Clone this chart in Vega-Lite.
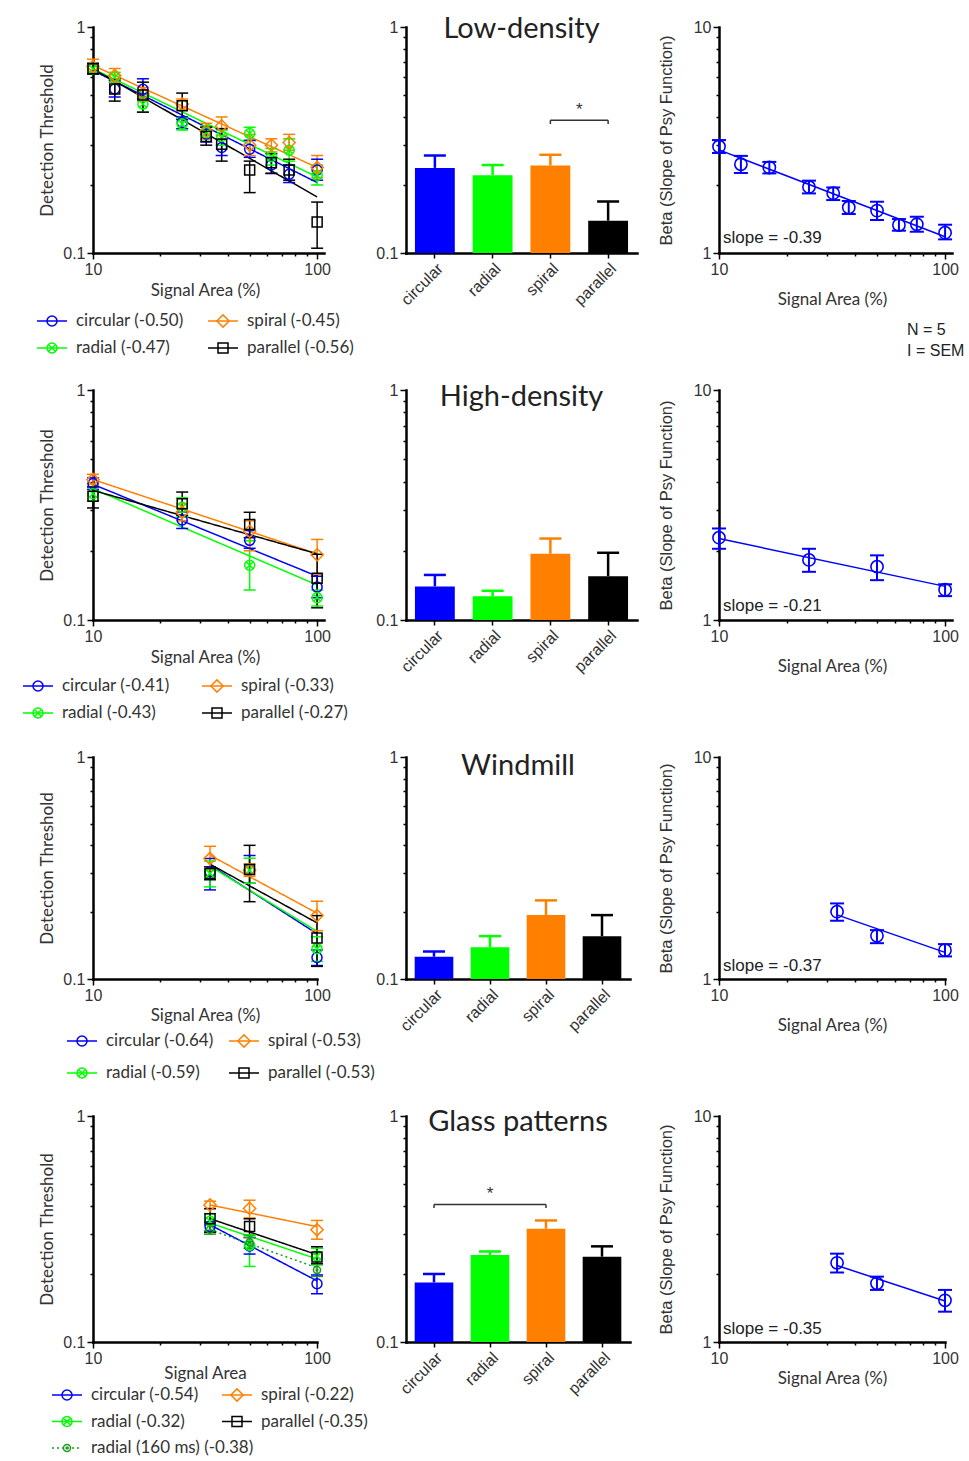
{
"$schema":"https://vega.github.io/schema/vega-lite/v6.json",
"padding":{"left":22,"top":15,"right":0,"bottom":0},
"background":"white",
"columns":3,
"spacing":{"row":137,"column":82},
"bounds":"flush",
"align":"each",
"datasets":{
"thr":[
{"p":"a","s":"circular","x":10,"y":0.653,"lo":0.62,"hi":0.69},
{"p":"a","s":"circular","x":12.5,"y":0.532,"lo":0.49,"hi":0.58},
{"p":"a","s":"circular","x":16.7,"y":0.53,"lo":0.48,"hi":0.59},
{"p":"a","s":"circular","x":25,"y":0.378,"lo":0.355,"hi":0.4},
{"p":"a","s":"circular","x":32,"y":0.336,"lo":0.31,"hi":0.36},
{"p":"a","s":"circular","x":37.5,"y":0.293,"lo":0.27,"hi":0.32},
{"p":"a","s":"circular","x":50,"y":0.288,"lo":0.265,"hi":0.315},
{"p":"a","s":"circular","x":62.5,"y":0.245,"lo":0.225,"hi":0.265},
{"p":"a","s":"circular","x":75,"y":0.223,"lo":0.205,"hi":0.245},
{"p":"a","s":"circular","x":100,"y":0.233,"lo":0.21,"hi":0.26},
{"p":"a","s":"radial","x":10,"y":0.653,"lo":0.62,"hi":0.69},
{"p":"a","s":"radial","x":12.5,"y":0.599,"lo":0.57,"hi":0.63},
{"p":"a","s":"radial","x":16.7,"y":0.456,"lo":0.42,"hi":0.49},
{"p":"a","s":"radial","x":25,"y":0.372,"lo":0.35,"hi":0.395},
{"p":"a","s":"radial","x":32,"y":0.341,"lo":0.32,"hi":0.365},
{"p":"a","s":"radial","x":37.5,"y":0.328,"lo":0.3,"hi":0.35},
{"p":"a","s":"radial","x":50,"y":0.338,"lo":0.315,"hi":0.36},
{"p":"a","s":"radial","x":62.5,"y":0.267,"lo":0.245,"hi":0.29},
{"p":"a","s":"radial","x":75,"y":0.285,"lo":0.255,"hi":0.32},
{"p":"a","s":"radial","x":100,"y":0.221,"lo":0.2,"hi":0.245},
{"p":"a","s":"spiral","x":10,"y":0.669,"lo":0.63,"hi":0.72},
{"p":"a","s":"spiral","x":12.5,"y":0.61,"lo":0.57,"hi":0.655},
{"p":"a","s":"spiral","x":16.7,"y":0.506,"lo":0.47,"hi":0.54},
{"p":"a","s":"spiral","x":25,"y":0.456,"lo":0.43,"hi":0.48},
{"p":"a","s":"spiral","x":32,"y":0.347,"lo":0.32,"hi":0.375},
{"p":"a","s":"spiral","x":37.5,"y":0.365,"lo":0.33,"hi":0.4},
{"p":"a","s":"spiral","x":50,"y":0.3,"lo":0.27,"hi":0.335},
{"p":"a","s":"spiral","x":62.5,"y":0.3,"lo":0.28,"hi":0.32},
{"p":"a","s":"spiral","x":75,"y":0.308,"lo":0.285,"hi":0.335},
{"p":"a","s":"spiral","x":100,"y":0.239,"lo":0.215,"hi":0.27},
{"p":"a","s":"parallel","x":10,"y":0.653,"lo":0.62,"hi":0.69},
{"p":"a","s":"parallel","x":12.5,"y":0.532,"lo":0.47,"hi":0.59},
{"p":"a","s":"parallel","x":16.7,"y":0.5,"lo":0.42,"hi":0.57},
{"p":"a","s":"parallel","x":25,"y":0.448,"lo":0.39,"hi":0.51},
{"p":"a","s":"parallel","x":32,"y":0.328,"lo":0.3,"hi":0.36},
{"p":"a","s":"parallel","x":37.5,"y":0.303,"lo":0.255,"hi":0.355},
{"p":"a","s":"parallel","x":50,"y":0.233,"lo":0.185,"hi":0.255},
{"p":"a","s":"parallel","x":62.5,"y":0.251,"lo":0.225,"hi":0.275},
{"p":"a","s":"parallel","x":75,"y":0.233,"lo":0.21,"hi":0.26},
{"p":"a","s":"parallel","x":100,"y":0.137,"lo":0.105,"hi":0.168},
{"p":"b","s":"circular","x":10,"y":0.392,"lo":0.37,"hi":0.415},
{"p":"b","s":"circular","x":25,"y":0.272,"lo":0.25,"hi":0.295},
{"p":"b","s":"circular","x":50,"y":0.222,"lo":0.205,"hi":0.245},
{"p":"b","s":"circular","x":100,"y":0.139,"lo":0.125,"hi":0.155},
{"p":"b","s":"radial","x":10,"y":0.354,"lo":0.33,"hi":0.38},
{"p":"b","s":"radial","x":25,"y":0.309,"lo":0.28,"hi":0.34},
{"p":"b","s":"radial","x":50,"y":0.173,"lo":0.135,"hi":0.221},
{"p":"b","s":"radial","x":100,"y":0.125,"lo":0.115,"hi":0.135},
{"p":"b","s":"spiral","x":10,"y":0.408,"lo":0.39,"hi":0.43},
{"p":"b","s":"spiral","x":25,"y":0.294,"lo":0.27,"hi":0.32},
{"p":"b","s":"spiral","x":50,"y":0.243,"lo":0.2,"hi":0.27},
{"p":"b","s":"spiral","x":100,"y":0.192,"lo":0.158,"hi":0.224},
{"p":"b","s":"parallel","x":10,"y":0.345,"lo":0.307,"hi":0.379},
{"p":"b","s":"parallel","x":25,"y":0.32,"lo":0.285,"hi":0.36},
{"p":"b","s":"parallel","x":50,"y":0.26,"lo":0.228,"hi":0.294},
{"p":"b","s":"parallel","x":100,"y":0.152,"lo":0.113,"hi":0.193},
{"p":"c","s":"circular","x":33.3,"y":0.304,"lo":0.252,"hi":0.349},
{"p":"c","s":"circular","x":50,"y":0.311,"lo":0.27,"hi":0.36},
{"p":"c","s":"circular","x":100,"y":0.125,"lo":0.115,"hi":0.135},
{"p":"c","s":"radial","x":33.3,"y":0.299,"lo":0.26,"hi":0.34},
{"p":"c","s":"radial","x":50,"y":0.309,"lo":0.27,"hi":0.35},
{"p":"c","s":"radial","x":100,"y":0.137,"lo":0.12,"hi":0.155},
{"p":"c","s":"spiral","x":33.3,"y":0.349,"lo":0.31,"hi":0.396},
{"p":"c","s":"spiral","x":50,"y":0.309,"lo":0.29,"hi":0.33},
{"p":"c","s":"spiral","x":100,"y":0.193,"lo":0.165,"hi":0.224},
{"p":"c","s":"parallel","x":33.3,"y":0.299,"lo":0.28,"hi":0.32},
{"p":"c","s":"parallel","x":50,"y":0.311,"lo":0.223,"hi":0.4},
{"p":"c","s":"parallel","x":100,"y":0.153,"lo":0.114,"hi":0.193},
{"p":"d","s":"circular","x":33.3,"y":0.324,"lo":0.31,"hi":0.34},
{"p":"d","s":"circular","x":50,"y":0.266,"lo":0.245,"hi":0.29},
{"p":"d","s":"circular","x":100,"y":0.181,"lo":0.1635,"hi":0.198},
{"p":"d","s":"radial","x":33.3,"y":0.342,"lo":0.31,"hi":0.37},
{"p":"d","s":"radial","x":50,"y":0.268,"lo":0.216,"hi":0.298},
{"p":"d","s":"radial","x":100,"y":0.24,"lo":0.22,"hi":0.26},
{"p":"d","s":"spiral","x":33.3,"y":0.404,"lo":0.39,"hi":0.42},
{"p":"d","s":"spiral","x":50,"y":0.39,"lo":0.354,"hi":0.424},
{"p":"d","s":"spiral","x":100,"y":0.314,"lo":0.285,"hi":0.345},
{"p":"d","s":"parallel","x":33.3,"y":0.351,"lo":0.306,"hi":0.389},
{"p":"d","s":"parallel","x":50,"y":0.324,"lo":0.298,"hi":0.351},
{"p":"d","s":"parallel","x":100,"y":0.238,"lo":0.222,"hi":0.264},
{"p":"d","s":"r160","x":33.3,"y":0.314,"lo":0.3,"hi":0.33},
{"p":"d","s":"r160","x":50,"y":0.276,"lo":0.26,"hi":0.29},
{"p":"d","s":"r160","x":100,"y":0.208,"lo":0.195,"hi":0.22}
],
"fit":[
{"p":"a","s":"circular","x":10,"y":0.642},{"p":"a","s":"circular","x":100,"y":0.205},
{"p":"a","s":"radial","x":10,"y":0.653},{"p":"a","s":"radial","x":100,"y":0.217},
{"p":"a","s":"spiral","x":10,"y":0.676},{"p":"a","s":"spiral","x":100,"y":0.239},
{"p":"a","s":"parallel","x":10,"y":0.653},{"p":"a","s":"parallel","x":100,"y":0.177},
{"p":"b","s":"circular","x":10,"y":0.389},{"p":"b","s":"circular","x":100,"y":0.155},
{"p":"b","s":"radial","x":10,"y":0.372},{"p":"b","s":"radial","x":100,"y":0.142},
{"p":"b","s":"spiral","x":10,"y":0.408},{"p":"b","s":"spiral","x":100,"y":0.194},
{"p":"b","s":"parallel","x":10,"y":0.366},{"p":"b","s":"parallel","x":100,"y":0.194},
{"p":"c","s":"circular","x":33.3,"y":0.326},{"p":"c","s":"circular","x":100,"y":0.16},
{"p":"c","s":"radial","x":33.3,"y":0.322},{"p":"c","s":"radial","x":100,"y":0.164},
{"p":"c","s":"spiral","x":33.3,"y":0.361},{"p":"c","s":"spiral","x":100,"y":0.198},
{"p":"c","s":"parallel","x":33.3,"y":0.329},{"p":"c","s":"parallel","x":100,"y":0.179},
{"p":"d","s":"circular","x":33.3,"y":0.33},{"p":"d","s":"circular","x":100,"y":0.1865},
{"p":"d","s":"radial","x":33.3,"y":0.336},{"p":"d","s":"radial","x":100,"y":0.233},
{"p":"d","s":"spiral","x":33.3,"y":0.404},{"p":"d","s":"spiral","x":100,"y":0.324},
{"p":"d","s":"parallel","x":33.3,"y":0.351},{"p":"d","s":"parallel","x":100,"y":0.2435},
{"p":"d","s":"r160","x":33.3,"y":0.314},{"p":"d","s":"r160","x":100,"y":0.213}
],
"bars":[
{"p":"a","s":"circular","v":0.238,"hi":0.27},{"p":"a","s":"radial","v":0.221,"hi":0.245},{"p":"a","s":"spiral","v":0.244,"hi":0.272},{"p":"a","s":"parallel","v":0.139,"hi":0.169},
{"p":"b","s":"circular","v":0.14,"hi":0.157},{"p":"b","s":"radial","v":0.127,"hi":0.134},{"p":"b","s":"spiral","v":0.194,"hi":0.226},{"p":"b","s":"parallel","v":0.155,"hi":0.196},
{"p":"c","s":"circular","v":0.126,"hi":0.133},{"p":"c","s":"radial","v":0.139,"hi":0.156},{"p":"c","s":"spiral","v":0.194,"hi":0.226},{"p":"c","s":"parallel","v":0.156,"hi":0.194},
{"p":"d","s":"circular","v":0.1835,"hi":0.2},{"p":"d","s":"radial","v":0.2427,"hi":0.2515},{"p":"d","s":"spiral","v":0.317,"hi":0.345},{"p":"d","s":"parallel","v":0.2385,"hi":0.265}
],
"brk":[
{"p":"a","a":"spiral","b":"parallel","m":"spiral","y":0.387,"y2":0.372},
{"p":"d","a":"circular","b":"spiral","m":"radial","y":0.406,"y2":0.392}
],
"beta":[
{"p":"a","x":10,"y":2.96,"lo":2.77,"hi":3.16},{"p":"a","x":12.5,"y":2.47,"lo":2.26,"hi":2.69},{"p":"a","x":16.7,"y":2.39,"lo":2.25,"hi":2.53},{"p":"a","x":25,"y":1.96,"lo":1.835,"hi":2.09},{"p":"a","x":32,"y":1.84,"lo":1.715,"hi":1.95},{"p":"a","x":37.5,"y":1.59,"lo":1.487,"hi":1.7},{"p":"a","x":50,"y":1.54,"lo":1.4,"hi":1.686},{"p":"a","x":62.5,"y":1.33,"lo":1.255,"hi":1.413},{"p":"a","x":75,"y":1.34,"lo":1.242,"hi":1.447},{"p":"a","x":100,"y":1.23,"lo":1.149,"hi":1.334},
{"p":"b","x":10,"y":2.28,"lo":2.04,"hi":2.5},{"p":"b","x":25,"y":1.825,"lo":1.62,"hi":2.04},{"p":"b","x":50,"y":1.706,"lo":1.49,"hi":1.91},{"p":"b","x":100,"y":1.354,"lo":1.27,"hi":1.43},
{"p":"c","x":33.3,"y":2.01,"lo":1.83,"hi":2.19},{"p":"c","x":50,"y":1.565,"lo":1.45,"hi":1.66},{"p":"c","x":100,"y":1.349,"lo":1.264,"hi":1.436},
{"p":"d","x":33.3,"y":2.24,"lo":2.03,"hi":2.46},{"p":"d","x":50,"y":1.818,"lo":1.7,"hi":1.946},{"p":"d","x":100,"y":1.529,"lo":1.362,"hi":1.7}
],
"bfit":[
{"p":"a","x":10,"y":2.86},{"p":"a","x":100,"y":1.18},
{"p":"b","x":10,"y":2.26},{"p":"b","x":100,"y":1.4},
{"p":"c","x":33.3,"y":1.945},{"p":"c","x":100,"y":1.318},
{"p":"d","x":33.3,"y":2.18},{"p":"d","x":100,"y":1.518}
],
"notes":[
{"p":"a","t":"slope = -0.39"},{"p":"b","t":"slope = -0.21"},{"p":"c","t":"slope = -0.37"},{"p":"d","t":"slope = -0.35"}
],
"leg":[
{"p":"a","s":"circular","c":0,"r":0,"t":"circular (-0.50)"},{"p":"a","s":"spiral","c":1,"r":0,"t":"spiral (-0.45)"},{"p":"a","s":"radial","c":0,"r":1,"t":"radial (-0.47)"},{"p":"a","s":"parallel","c":1,"r":1,"t":"parallel (-0.56)"},
{"p":"b","s":"circular","c":0,"r":0,"t":"circular (-0.41)"},{"p":"b","s":"spiral","c":1,"r":0,"t":"spiral (-0.33)"},{"p":"b","s":"radial","c":0,"r":1,"t":"radial (-0.43)"},{"p":"b","s":"parallel","c":1,"r":1,"t":"parallel (-0.27)"},
{"p":"c","s":"circular","c":0,"r":0,"t":"circular (-0.64)"},{"p":"c","s":"spiral","c":1,"r":0,"t":"spiral (-0.53)"},{"p":"c","s":"radial","c":0,"r":1,"t":"radial (-0.59)"},{"p":"c","s":"parallel","c":1,"r":1,"t":"parallel (-0.53)"},
{"p":"d","s":"circular","c":0,"r":0,"t":"circular (-0.54)"},{"p":"d","s":"spiral","c":1,"r":0,"t":"spiral (-0.22)"},{"p":"d","s":"radial","c":0,"r":1,"t":"radial (-0.32)"},{"p":"d","s":"parallel","c":1,"r":1,"t":"parallel (-0.35)"},{"p":"d","s":"r160","c":0,"r":2,"t":"radial (160 ms) (-0.38)"}
]
},
"concat":[
{"width":231,"height":226,
"layer":[
{"encoding":{"x":{"field":"x","type":"quantitative","scale":{"type":"log","domain":[10,107.3],"nice":false},"axis":{"values":[10,20,30,40,50,60,70,80,90,100],"labelExpr":"datum.value==10?'10':datum.value==100?'100':''","tickSize":{"condition":{"test":"datum.value==10||datum.value==100","value":6},"value":3},"labelFlush":false,"title":"Signal Area (%)","titlePadding":5,"titleX":112}},"color":{"field":"s","type":"nominal","scale":{"domain":["circular","radial","spiral","parallel","r160"],"range":["#0000ff","#00ff00","#ff8000","#000000","#1e9b1e"]},"legend":null}},
"layer":[
{"data":{"name":"fit"},"transform":[{"filter":"datum.p=='a'"}],"mark":{"type":"line","strokeWidth":1.5},"encoding":{"y":{"field":"y","type":"quantitative","scale":{"type":"log","domain":[0.1,1],"nice":false},"axis":{"values":[0.1,0.2,0.3,0.4,0.5,0.6,0.7,0.8,0.9,1],"labelExpr":"datum.value==1?'1':datum.value==0.1?'0.1':''","tickSize":{"condition":{"test":"datum.value==1||datum.value==0.1","value":6},"value":3},"title":"Detection Threshold","titlePadding":6}},"strokeDash":{"condition":{"test":"datum.s=='r160'","value":[2,3]},"value":[1,0]}}},
{"data":{"name":"thr"},"transform":[{"filter":"datum.p=='a'"}],"mark":{"type":"rule","strokeWidth":1.5},"encoding":{"y":{"field":"lo","type":"quantitative"},"y2":{"field":"hi"}}},
{"data":{"name":"thr"},"transform":[{"filter":"datum.p=='a'"}],"mark":{"type":"tick","orient":"horizontal","size":12,"thickness":1.5,"opacity":1},"encoding":{"y":{"field":"lo","type":"quantitative"}}},
{"data":{"name":"thr"},"transform":[{"filter":"datum.p=='a'"}],"mark":{"type":"tick","orient":"horizontal","size":12,"thickness":1.5,"opacity":1},"encoding":{"y":{"field":"hi","type":"quantitative"}}},
{"data":{"name":"thr"},"transform":[{"filter":"datum.p=='a'"}],"mark":{"type":"point","filled":false,"strokeWidth":1.5,"opacity":1},"encoding":{"y":{"field":"y","type":"quantitative"},"shape":{"field":"s","type":"nominal","scale":{"domain":["circular","radial","spiral","parallel","r160"],"range":["circle","M1,0A1,1,0,1,1,-1,0A1,1,0,1,1,1,0ZM-0.7,-0.7L0.7,0.7M-0.7,0.7L0.7,-0.7","diamond","square","M1,0A1,1,0,1,1,-1,0A1,1,0,1,1,1,0ZM0.25,0A0.25,0.25,0,1,1,-0.25,0A0.25,0.25,0,1,1,0.25,0Z"]},"legend":null},"size":{"condition":[{"test":"datum.s=='spiral'","value":150},{"test":"datum.s=='r160'","value":50}],"value":100}}}
]},
{"data":{"name":"leg"},"transform":[{"filter":"datum.p=='a'"}],
"encoding":{"x":{"field":"c","type":"ordinal","scale":{"type":"point","domain":[0,1],"range":[-41,130],"padding":0},"axis":null},"y":{"field":"r","type":"ordinal","scale":{"type":"point","domain":[0,1],"range":[294,321],"padding":0},"axis":null},"color":{"field":"s","type":"nominal","scale":{"domain":["circular","radial","spiral","parallel","r160"],"range":["#0000ff","#00ff00","#ff8000","#000000","#1e9b1e"]},"legend":null}},
"layer":[
{"mark":{"type":"rule","strokeWidth":1.5,"xOffset":-15,"x2Offset":15},"encoding":{"x2":{"field":"c"},"strokeDash":{"condition":{"test":"datum.s=='r160'","value":[2,3]},"value":[1,0]}}},
{"mark":{"type":"point","filled":false,"strokeWidth":1.5,"opacity":1},"encoding":{"shape":{"field":"s","type":"nominal","scale":{"domain":["circular","radial","spiral","parallel","r160"],"range":["circle","M1,0A1,1,0,1,1,-1,0A1,1,0,1,1,1,0ZM-0.7,-0.7L0.7,0.7M-0.7,0.7L0.7,-0.7","diamond","square","M1,0A1,1,0,1,1,-1,0A1,1,0,1,1,1,0ZM0.25,0A0.25,0.25,0,1,1,-0.25,0A0.25,0.25,0,1,1,0.25,0Z"]},"legend":null},"size":{"condition":[{"test":"datum.s=='spiral'","value":150},{"test":"datum.s=='r160'","value":50}],"value":100}}},
{"mark":{"type":"text","align":"left","baseline":"middle","dx":24,"font":"Lato","fontSize":17},"encoding":{"text":{"field":"t"},"color":{"value":"#333333"}}}
]}
],
"resolve":{"scale":{"x":"independent","y":"independent"}}},

{"width":231,"height":226,
"title":{"text":"Low-density","offset":-25},
"layer":[
{"data":{"name":"bars"},"transform":[{"filter":"datum.p=='a'"}],"mark":{"type":"bar"},"encoding":{"x":{"field":"s","type":"nominal","scale":{"domain":["circular","radial","spiral","parallel"],"paddingInner":0.31,"paddingOuter":0.155},"axis":{"title":null,"labelAngle":-45,"tickSize":5}},"y":{"field":"v","type":"quantitative","scale":{"type":"log","domain":[0.1,1],"nice":false},"axis":{"values":[0.1,0.2,0.3,0.4,0.5,0.6,0.7,0.8,0.9,1],"labelExpr":"datum.value==1?'1':datum.value==0.1?'0.1':''","tickSize":{"condition":{"test":"datum.value==1||datum.value==0.1","value":6},"value":3},"title":null}},"y2":{"datum":0.1},"color":{"field":"s","type":"nominal","scale":{"domain":["circular","radial","spiral","parallel","r160"],"range":["#0000ff","#00ff00","#ff8000","#000000","#1e9b1e"]},"legend":null}}},
{"data":{"name":"bars"},"transform":[{"filter":"datum.p=='a'"}],"mark":{"type":"rule","strokeWidth":2.5},"encoding":{"x":{"field":"s","type":"nominal"},"y":{"field":"v","type":"quantitative"},"y2":{"field":"hi"},"color":{"field":"s","type":"nominal","legend":null}}},
{"data":{"name":"bars"},"transform":[{"filter":"datum.p=='a'"}],"mark":{"type":"tick","size":22,"thickness":2.5,"opacity":1},"encoding":{"x":{"field":"s","type":"nominal"},"y":{"field":"hi","type":"quantitative"},"color":{"field":"s","type":"nominal","legend":null}}},
{"data":{"name":"brk"},"transform":[{"filter":"datum.p=='a'"}],"mark":{"type":"rule","strokeWidth":1.5,"color":"#333333"},"encoding":{"x":{"field":"a","type":"nominal"},"x2":{"field":"b"},"y":{"field":"y","type":"quantitative"}}},
{"data":{"name":"brk"},"transform":[{"filter":"datum.p=='a'"}],"mark":{"type":"rule","strokeWidth":1.5,"color":"#333333"},"encoding":{"x":{"field":"a","type":"nominal"},"y":{"field":"y","type":"quantitative"},"y2":{"field":"y2"}}},
{"data":{"name":"brk"},"transform":[{"filter":"datum.p=='a'"}],"mark":{"type":"rule","strokeWidth":1.5,"color":"#333333"},"encoding":{"x":{"field":"b","type":"nominal"},"y":{"field":"y","type":"quantitative"},"y2":{"field":"y2"}}},
{"data":{"name":"brk"},"transform":[{"filter":"datum.p=='a'"}],"mark":{"type":"text","text":"*","dx":29,"dy":-5,"fontSize":17,"color":"#333333","baseline":"alphabetic"},"encoding":{"x":{"field":"m","type":"nominal"},"y":{"field":"y","type":"quantitative"}}}
]},

{"width":233,"height":226,
"layer":[
{"data":{"name":"bfit"},"transform":[{"filter":"datum.p=='a'"}],"mark":{"type":"line","color":"#0000ff","strokeWidth":1.5},"encoding":{"x":{"field":"x","type":"quantitative","scale":{"type":"log","domain":[10,107.3],"nice":false},"axis":{"values":[10,20,30,40,50,60,70,80,90,100],"labelExpr":"datum.value==10?'10':datum.value==100?'100':''","tickSize":{"condition":{"test":"datum.value==10||datum.value==100","value":6},"value":3},"labelFlush":false,"title":"Signal Area (%)","titlePadding":14,"titleX":113}},"y":{"field":"y","type":"quantitative","scale":{"type":"log","domain":[1,10],"nice":false},"axis":{"values":[1,2,3,4,5,6,7,8,9,10],"labelExpr":"datum.value==1?'1':datum.value==10?'10':''","tickSize":{"condition":{"test":"datum.value==1||datum.value==10","value":6},"value":3},"title":"Beta (Slope of Psy Function)","titleFont":"Liberation Sans","titleFontSize":16.5,"titlePadding":19}}}},
{"data":{"name":"beta"},"transform":[{"filter":"datum.p=='a'"}],"mark":{"type":"rule","color":"#0000ff","strokeWidth":2},"encoding":{"x":{"field":"x","type":"quantitative"},"y":{"field":"lo","type":"quantitative"},"y2":{"field":"hi"}}},
{"data":{"name":"beta"},"transform":[{"filter":"datum.p=='a'"}],"mark":{"type":"tick","orient":"horizontal","size":14,"thickness":2,"color":"#0000ff","opacity":1},"encoding":{"x":{"field":"x","type":"quantitative"},"y":{"field":"lo","type":"quantitative"}}},
{"data":{"name":"beta"},"transform":[{"filter":"datum.p=='a'"}],"mark":{"type":"tick","orient":"horizontal","size":14,"thickness":2,"color":"#0000ff","opacity":1},"encoding":{"x":{"field":"x","type":"quantitative"},"y":{"field":"hi","type":"quantitative"}}},
{"data":{"name":"beta"},"transform":[{"filter":"datum.p=='a'"}],"mark":{"type":"point","filled":false,"color":"#0000ff","size":150,"strokeWidth":1.6,"opacity":1},"encoding":{"x":{"field":"x","type":"quantitative"},"y":{"field":"y","type":"quantitative"}}},
{"data":{"name":"notes"},"transform":[{"filter":"datum.p=='a'"}],"mark":{"type":"text","align":"left","baseline":"middle","dx":4,"dy":-15,"fontSize":17,"color":"#222222"},"encoding":{"x":{"datum":10,"type":"quantitative"},"y":{"datum":1,"type":"quantitative"},"text":{"field":"t"}}},
{"data":{"values":[{"t":"N = 5"}]},"mark":{"type":"text","align":"left","baseline":"middle","dx":-38,"dy":77,"fontSize":16,"color":"#222222"},"encoding":{"x":{"datum":100,"type":"quantitative"},"y":{"datum":1,"type":"quantitative"},"text":{"field":"t"}}},
{"data":{"values":[{"t":"I = SEM"}]},"mark":{"type":"text","align":"left","baseline":"middle","dx":-38,"dy":98,"fontSize":16,"color":"#222222"},"encoding":{"x":{"datum":100,"type":"quantitative"},"y":{"datum":1,"type":"quantitative"},"text":{"field":"t"}}}
]},

{"width":231,"height":230,
"layer":[
{"encoding":{"x":{"field":"x","type":"quantitative","scale":{"type":"log","domain":[10,107.3],"nice":false},"axis":{"values":[10,20,30,40,50,60,70,80,90,100],"labelExpr":"datum.value==10?'10':datum.value==100?'100':''","tickSize":{"condition":{"test":"datum.value==10||datum.value==100","value":6},"value":3},"labelFlush":false,"title":"Signal Area (%)","titlePadding":5,"titleX":112}},"color":{"field":"s","type":"nominal","scale":{"domain":["circular","radial","spiral","parallel","r160"],"range":["#0000ff","#00ff00","#ff8000","#000000","#1e9b1e"]},"legend":null}},
"layer":[
{"data":{"name":"fit"},"transform":[{"filter":"datum.p=='b'"}],"mark":{"type":"line","strokeWidth":1.5},"encoding":{"y":{"field":"y","type":"quantitative","scale":{"type":"log","domain":[0.1,1],"nice":false},"axis":{"values":[0.1,0.2,0.3,0.4,0.5,0.6,0.7,0.8,0.9,1],"labelExpr":"datum.value==1?'1':datum.value==0.1?'0.1':''","tickSize":{"condition":{"test":"datum.value==1||datum.value==0.1","value":6},"value":3},"title":"Detection Threshold","titlePadding":6}},"strokeDash":{"condition":{"test":"datum.s=='r160'","value":[2,3]},"value":[1,0]}}},
{"data":{"name":"thr"},"transform":[{"filter":"datum.p=='b'"}],"mark":{"type":"rule","strokeWidth":1.5},"encoding":{"y":{"field":"lo","type":"quantitative"},"y2":{"field":"hi"}}},
{"data":{"name":"thr"},"transform":[{"filter":"datum.p=='b'"}],"mark":{"type":"tick","orient":"horizontal","size":12,"thickness":1.5,"opacity":1},"encoding":{"y":{"field":"lo","type":"quantitative"}}},
{"data":{"name":"thr"},"transform":[{"filter":"datum.p=='b'"}],"mark":{"type":"tick","orient":"horizontal","size":12,"thickness":1.5,"opacity":1},"encoding":{"y":{"field":"hi","type":"quantitative"}}},
{"data":{"name":"thr"},"transform":[{"filter":"datum.p=='b'"}],"mark":{"type":"point","filled":false,"strokeWidth":1.5,"opacity":1},"encoding":{"y":{"field":"y","type":"quantitative"},"shape":{"field":"s","type":"nominal","scale":{"domain":["circular","radial","spiral","parallel","r160"],"range":["circle","M1,0A1,1,0,1,1,-1,0A1,1,0,1,1,1,0ZM-0.7,-0.7L0.7,0.7M-0.7,0.7L0.7,-0.7","diamond","square","M1,0A1,1,0,1,1,-1,0A1,1,0,1,1,1,0ZM0.25,0A0.25,0.25,0,1,1,-0.25,0A0.25,0.25,0,1,1,0.25,0Z"]},"legend":null},"size":{"condition":[{"test":"datum.s=='spiral'","value":150},{"test":"datum.s=='r160'","value":50}],"value":100}}}
]},
{"data":{"name":"leg"},"transform":[{"filter":"datum.p=='b'"}],
"encoding":{"x":{"field":"c","type":"ordinal","scale":{"type":"point","domain":[0,1],"range":[-55,124],"padding":0},"axis":null},"y":{"field":"r","type":"ordinal","scale":{"type":"point","domain":[0,1],"range":[296,323],"padding":0},"axis":null},"color":{"field":"s","type":"nominal","scale":{"domain":["circular","radial","spiral","parallel","r160"],"range":["#0000ff","#00ff00","#ff8000","#000000","#1e9b1e"]},"legend":null}},
"layer":[
{"mark":{"type":"rule","strokeWidth":1.5,"xOffset":-15,"x2Offset":15},"encoding":{"x2":{"field":"c"},"strokeDash":{"condition":{"test":"datum.s=='r160'","value":[2,3]},"value":[1,0]}}},
{"mark":{"type":"point","filled":false,"strokeWidth":1.5,"opacity":1},"encoding":{"shape":{"field":"s","type":"nominal","scale":{"domain":["circular","radial","spiral","parallel","r160"],"range":["circle","M1,0A1,1,0,1,1,-1,0A1,1,0,1,1,1,0ZM-0.7,-0.7L0.7,0.7M-0.7,0.7L0.7,-0.7","diamond","square","M1,0A1,1,0,1,1,-1,0A1,1,0,1,1,1,0ZM0.25,0A0.25,0.25,0,1,1,-0.25,0A0.25,0.25,0,1,1,0.25,0Z"]},"legend":null},"size":{"condition":[{"test":"datum.s=='spiral'","value":150},{"test":"datum.s=='r160'","value":50}],"value":100}}},
{"mark":{"type":"text","align":"left","baseline":"middle","dx":24,"font":"Lato","fontSize":17},"encoding":{"text":{"field":"t"},"color":{"value":"#333333"}}}
]}
],
"resolve":{"scale":{"x":"independent","y":"independent"}}},

{"width":231,"height":230,
"title":{"text":"High-density","offset":-30},
"layer":[
{"data":{"name":"bars"},"transform":[{"filter":"datum.p=='b'"}],"mark":{"type":"bar"},"encoding":{"x":{"field":"s","type":"nominal","scale":{"domain":["circular","radial","spiral","parallel"],"paddingInner":0.31,"paddingOuter":0.155},"axis":{"title":null,"labelAngle":-45,"tickSize":5}},"y":{"field":"v","type":"quantitative","scale":{"type":"log","domain":[0.1,1],"nice":false},"axis":{"values":[0.1,0.2,0.3,0.4,0.5,0.6,0.7,0.8,0.9,1],"labelExpr":"datum.value==1?'1':datum.value==0.1?'0.1':''","tickSize":{"condition":{"test":"datum.value==1||datum.value==0.1","value":6},"value":3},"title":null}},"y2":{"datum":0.1},"color":{"field":"s","type":"nominal","scale":{"domain":["circular","radial","spiral","parallel","r160"],"range":["#0000ff","#00ff00","#ff8000","#000000","#1e9b1e"]},"legend":null}}},
{"data":{"name":"bars"},"transform":[{"filter":"datum.p=='b'"}],"mark":{"type":"rule","strokeWidth":2.5},"encoding":{"x":{"field":"s","type":"nominal"},"y":{"field":"v","type":"quantitative"},"y2":{"field":"hi"},"color":{"field":"s","type":"nominal","legend":null}}},
{"data":{"name":"bars"},"transform":[{"filter":"datum.p=='b'"}],"mark":{"type":"tick","size":22,"thickness":2.5,"opacity":1},"encoding":{"x":{"field":"s","type":"nominal"},"y":{"field":"hi","type":"quantitative"},"color":{"field":"s","type":"nominal","legend":null}}}
]},

{"width":233,"height":230,
"layer":[
{"data":{"name":"bfit"},"transform":[{"filter":"datum.p=='b'"}],"mark":{"type":"line","color":"#0000ff","strokeWidth":1.5},"encoding":{"x":{"field":"x","type":"quantitative","scale":{"type":"log","domain":[10,107.3],"nice":false},"axis":{"values":[10,20,30,40,50,60,70,80,90,100],"labelExpr":"datum.value==10?'10':datum.value==100?'100':''","tickSize":{"condition":{"test":"datum.value==10||datum.value==100","value":6},"value":3},"labelFlush":false,"title":"Signal Area (%)","titlePadding":14,"titleX":113}},"y":{"field":"y","type":"quantitative","scale":{"type":"log","domain":[1,10],"nice":false},"axis":{"values":[1,2,3,4,5,6,7,8,9,10],"labelExpr":"datum.value==1?'1':datum.value==10?'10':''","tickSize":{"condition":{"test":"datum.value==1||datum.value==10","value":6},"value":3},"title":"Beta (Slope of Psy Function)","titleFont":"Liberation Sans","titleFontSize":16.5,"titlePadding":19}}}},
{"data":{"name":"beta"},"transform":[{"filter":"datum.p=='b'"}],"mark":{"type":"rule","color":"#0000ff","strokeWidth":2},"encoding":{"x":{"field":"x","type":"quantitative"},"y":{"field":"lo","type":"quantitative"},"y2":{"field":"hi"}}},
{"data":{"name":"beta"},"transform":[{"filter":"datum.p=='b'"}],"mark":{"type":"tick","orient":"horizontal","size":14,"thickness":2,"color":"#0000ff","opacity":1},"encoding":{"x":{"field":"x","type":"quantitative"},"y":{"field":"lo","type":"quantitative"}}},
{"data":{"name":"beta"},"transform":[{"filter":"datum.p=='b'"}],"mark":{"type":"tick","orient":"horizontal","size":14,"thickness":2,"color":"#0000ff","opacity":1},"encoding":{"x":{"field":"x","type":"quantitative"},"y":{"field":"hi","type":"quantitative"}}},
{"data":{"name":"beta"},"transform":[{"filter":"datum.p=='b'"}],"mark":{"type":"point","filled":false,"color":"#0000ff","size":150,"strokeWidth":1.6,"opacity":1},"encoding":{"x":{"field":"x","type":"quantitative"},"y":{"field":"y","type":"quantitative"}}},
{"data":{"name":"notes"},"transform":[{"filter":"datum.p=='b'"}],"mark":{"type":"text","align":"left","baseline":"middle","dx":4,"dy":-14,"fontSize":17,"color":"#222222"},"encoding":{"x":{"datum":10,"type":"quantitative"},"y":{"datum":1,"type":"quantitative"},"text":{"field":"t"}}}
]},

{"width":224,"height":222,
"layer":[
{"encoding":{"x":{"field":"x","type":"quantitative","scale":{"type":"log","domain":[10,100],"nice":false},"axis":{"values":[10,20,30,40,50,60,70,80,90,100],"labelExpr":"datum.value==10?'10':datum.value==100?'100':''","tickSize":{"condition":{"test":"datum.value==10||datum.value==100","value":6},"value":3},"labelFlush":false,"title":"Signal Area (%)","titlePadding":4}},"color":{"field":"s","type":"nominal","scale":{"domain":["circular","radial","spiral","parallel","r160"],"range":["#0000ff","#00ff00","#ff8000","#000000","#1e9b1e"]},"legend":null}},
"layer":[
{"data":{"name":"fit"},"transform":[{"filter":"datum.p=='c'"}],"mark":{"type":"line","strokeWidth":1.5},"encoding":{"y":{"field":"y","type":"quantitative","scale":{"type":"log","domain":[0.1,1],"nice":false},"axis":{"values":[0.1,0.2,0.3,0.4,0.5,0.6,0.7,0.8,0.9,1],"labelExpr":"datum.value==1?'1':datum.value==0.1?'0.1':''","tickSize":{"condition":{"test":"datum.value==1||datum.value==0.1","value":6},"value":3},"title":"Detection Threshold","titlePadding":6}},"strokeDash":{"condition":{"test":"datum.s=='r160'","value":[2,3]},"value":[1,0]}}},
{"data":{"name":"thr"},"transform":[{"filter":"datum.p=='c'"}],"mark":{"type":"rule","strokeWidth":1.5},"encoding":{"y":{"field":"lo","type":"quantitative"},"y2":{"field":"hi"}}},
{"data":{"name":"thr"},"transform":[{"filter":"datum.p=='c'"}],"mark":{"type":"tick","orient":"horizontal","size":12,"thickness":1.5,"opacity":1},"encoding":{"y":{"field":"lo","type":"quantitative"}}},
{"data":{"name":"thr"},"transform":[{"filter":"datum.p=='c'"}],"mark":{"type":"tick","orient":"horizontal","size":12,"thickness":1.5,"opacity":1},"encoding":{"y":{"field":"hi","type":"quantitative"}}},
{"data":{"name":"thr"},"transform":[{"filter":"datum.p=='c'"}],"mark":{"type":"point","filled":false,"strokeWidth":1.5,"opacity":1},"encoding":{"y":{"field":"y","type":"quantitative"},"shape":{"field":"s","type":"nominal","scale":{"domain":["circular","radial","spiral","parallel","r160"],"range":["circle","M1,0A1,1,0,1,1,-1,0A1,1,0,1,1,1,0ZM-0.7,-0.7L0.7,0.7M-0.7,0.7L0.7,-0.7","diamond","square","M1,0A1,1,0,1,1,-1,0A1,1,0,1,1,1,0ZM0.25,0A0.25,0.25,0,1,1,-0.25,0A0.25,0.25,0,1,1,0.25,0Z"]},"legend":null},"size":{"condition":[{"test":"datum.s=='spiral'","value":150},{"test":"datum.s=='r160'","value":50}],"value":100}}}
]},
{"data":{"name":"leg"},"transform":[{"filter":"datum.p=='c'"}],
"encoding":{"x":{"field":"c","type":"ordinal","scale":{"type":"point","domain":[0,1],"range":[-11,151],"padding":0},"axis":null},"y":{"field":"r","type":"ordinal","scale":{"type":"point","domain":[0,1],"range":[284,316],"padding":0},"axis":null},"color":{"field":"s","type":"nominal","scale":{"domain":["circular","radial","spiral","parallel","r160"],"range":["#0000ff","#00ff00","#ff8000","#000000","#1e9b1e"]},"legend":null}},
"layer":[
{"mark":{"type":"rule","strokeWidth":1.5,"xOffset":-15,"x2Offset":15},"encoding":{"x2":{"field":"c"},"strokeDash":{"condition":{"test":"datum.s=='r160'","value":[2,3]},"value":[1,0]}}},
{"mark":{"type":"point","filled":false,"strokeWidth":1.5,"opacity":1},"encoding":{"shape":{"field":"s","type":"nominal","scale":{"domain":["circular","radial","spiral","parallel","r160"],"range":["circle","M1,0A1,1,0,1,1,-1,0A1,1,0,1,1,1,0ZM-0.7,-0.7L0.7,0.7M-0.7,0.7L0.7,-0.7","diamond","square","M1,0A1,1,0,1,1,-1,0A1,1,0,1,1,1,0ZM0.25,0A0.25,0.25,0,1,1,-0.25,0A0.25,0.25,0,1,1,0.25,0Z"]},"legend":null},"size":{"condition":[{"test":"datum.s=='spiral'","value":150},{"test":"datum.s=='r160'","value":50}],"value":100}}},
{"mark":{"type":"text","align":"left","baseline":"middle","dx":24,"font":"Lato","fontSize":17},"encoding":{"text":{"field":"t"},"color":{"value":"#333333"}}}
]}
],
"resolve":{"scale":{"x":"independent","y":"independent"}}},

{"width":224,"height":222,
"title":{"text":"Windmill","offset":-32},
"layer":[
{"data":{"name":"bars"},"transform":[{"filter":"datum.p=='c'"}],"mark":{"type":"bar"},"encoding":{"x":{"field":"s","type":"nominal","scale":{"domain":["circular","radial","spiral","parallel"],"paddingInner":0.31,"paddingOuter":0.155},"axis":{"title":null,"labelAngle":-45,"tickSize":5}},"y":{"field":"v","type":"quantitative","scale":{"type":"log","domain":[0.1,1],"nice":false},"axis":{"values":[0.1,0.2,0.3,0.4,0.5,0.6,0.7,0.8,0.9,1],"labelExpr":"datum.value==1?'1':datum.value==0.1?'0.1':''","tickSize":{"condition":{"test":"datum.value==1||datum.value==0.1","value":6},"value":3},"title":null}},"y2":{"datum":0.1},"color":{"field":"s","type":"nominal","scale":{"domain":["circular","radial","spiral","parallel","r160"],"range":["#0000ff","#00ff00","#ff8000","#000000","#1e9b1e"]},"legend":null}}},
{"data":{"name":"bars"},"transform":[{"filter":"datum.p=='c'"}],"mark":{"type":"rule","strokeWidth":2.5},"encoding":{"x":{"field":"s","type":"nominal"},"y":{"field":"v","type":"quantitative"},"y2":{"field":"hi"},"color":{"field":"s","type":"nominal","legend":null}}},
{"data":{"name":"bars"},"transform":[{"filter":"datum.p=='c'"}],"mark":{"type":"tick","size":22,"thickness":2.5,"opacity":1},"encoding":{"x":{"field":"s","type":"nominal"},"y":{"field":"hi","type":"quantitative"},"color":{"field":"s","type":"nominal","legend":null}}}
]},

{"width":226,"height":222,
"layer":[
{"data":{"name":"bfit"},"transform":[{"filter":"datum.p=='c'"}],"mark":{"type":"line","color":"#0000ff","strokeWidth":1.5},"encoding":{"x":{"field":"x","type":"quantitative","scale":{"type":"log","domain":[10,100],"nice":false},"axis":{"values":[10,20,30,40,50,60,70,80,90,100],"labelExpr":"datum.value==10?'10':datum.value==100?'100':''","tickSize":{"condition":{"test":"datum.value==10||datum.value==100","value":6},"value":3},"labelFlush":false,"title":"Signal Area (%)","titlePadding":14}},"y":{"field":"y","type":"quantitative","scale":{"type":"log","domain":[1,10],"nice":false},"axis":{"values":[1,2,3,4,5,6,7,8,9,10],"labelExpr":"datum.value==1?'1':datum.value==10?'10':''","tickSize":{"condition":{"test":"datum.value==1||datum.value==10","value":6},"value":3},"title":"Beta (Slope of Psy Function)","titleFont":"Liberation Sans","titleFontSize":16.5,"titlePadding":19}}}},
{"data":{"name":"beta"},"transform":[{"filter":"datum.p=='c'"}],"mark":{"type":"rule","color":"#0000ff","strokeWidth":2},"encoding":{"x":{"field":"x","type":"quantitative"},"y":{"field":"lo","type":"quantitative"},"y2":{"field":"hi"}}},
{"data":{"name":"beta"},"transform":[{"filter":"datum.p=='c'"}],"mark":{"type":"tick","orient":"horizontal","size":14,"thickness":2,"color":"#0000ff","opacity":1},"encoding":{"x":{"field":"x","type":"quantitative"},"y":{"field":"lo","type":"quantitative"}}},
{"data":{"name":"beta"},"transform":[{"filter":"datum.p=='c'"}],"mark":{"type":"tick","orient":"horizontal","size":14,"thickness":2,"color":"#0000ff","opacity":1},"encoding":{"x":{"field":"x","type":"quantitative"},"y":{"field":"hi","type":"quantitative"}}},
{"data":{"name":"beta"},"transform":[{"filter":"datum.p=='c'"}],"mark":{"type":"point","filled":false,"color":"#0000ff","size":150,"strokeWidth":1.6,"opacity":1},"encoding":{"x":{"field":"x","type":"quantitative"},"y":{"field":"y","type":"quantitative"}}},
{"data":{"name":"notes"},"transform":[{"filter":"datum.p=='c'"}],"mark":{"type":"text","align":"left","baseline":"middle","dx":4,"dy":-13,"fontSize":17,"color":"#222222"},"encoding":{"x":{"datum":10,"type":"quantitative"},"y":{"datum":1,"type":"quantitative"},"text":{"field":"t"}}}
]},

{"width":224,"height":226,
"layer":[
{"encoding":{"x":{"field":"x","type":"quantitative","scale":{"type":"log","domain":[10,100],"nice":false},"axis":{"values":[10,20,30,40,50,60,70,80,90,100],"labelExpr":"datum.value==10?'10':datum.value==100?'100':''","tickSize":{"condition":{"test":"datum.value==10||datum.value==100","value":6},"value":3},"labelFlush":false,"title":"Signal Area","titlePadding":-1}},"color":{"field":"s","type":"nominal","scale":{"domain":["circular","radial","spiral","parallel","r160"],"range":["#0000ff","#00ff00","#ff8000","#000000","#1e9b1e"]},"legend":null}},
"layer":[
{"data":{"name":"fit"},"transform":[{"filter":"datum.p=='d'"}],"mark":{"type":"line","strokeWidth":1.5},"encoding":{"y":{"field":"y","type":"quantitative","scale":{"type":"log","domain":[0.1,1],"nice":false},"axis":{"values":[0.1,0.2,0.3,0.4,0.5,0.6,0.7,0.8,0.9,1],"labelExpr":"datum.value==1?'1':datum.value==0.1?'0.1':''","tickSize":{"condition":{"test":"datum.value==1||datum.value==0.1","value":6},"value":3},"title":"Detection Threshold","titlePadding":6}},"strokeDash":{"condition":{"test":"datum.s=='r160'","value":[2,3]},"value":[1,0]}}},
{"data":{"name":"thr"},"transform":[{"filter":"datum.p=='d'"}],"mark":{"type":"rule","strokeWidth":1.5},"encoding":{"y":{"field":"lo","type":"quantitative"},"y2":{"field":"hi"}}},
{"data":{"name":"thr"},"transform":[{"filter":"datum.p=='d'"}],"mark":{"type":"tick","orient":"horizontal","size":12,"thickness":1.5,"opacity":1},"encoding":{"y":{"field":"lo","type":"quantitative"}}},
{"data":{"name":"thr"},"transform":[{"filter":"datum.p=='d'"}],"mark":{"type":"tick","orient":"horizontal","size":12,"thickness":1.5,"opacity":1},"encoding":{"y":{"field":"hi","type":"quantitative"}}},
{"data":{"name":"thr"},"transform":[{"filter":"datum.p=='d'"}],"mark":{"type":"point","filled":false,"strokeWidth":1.5,"opacity":1},"encoding":{"y":{"field":"y","type":"quantitative"},"shape":{"field":"s","type":"nominal","scale":{"domain":["circular","radial","spiral","parallel","r160"],"range":["circle","M1,0A1,1,0,1,1,-1,0A1,1,0,1,1,1,0ZM-0.7,-0.7L0.7,0.7M-0.7,0.7L0.7,-0.7","diamond","square","M1,0A1,1,0,1,1,-1,0A1,1,0,1,1,1,0ZM0.25,0A0.25,0.25,0,1,1,-0.25,0A0.25,0.25,0,1,1,0.25,0Z"]},"legend":null},"size":{"condition":[{"test":"datum.s=='spiral'","value":150},{"test":"datum.s=='r160'","value":50}],"value":100}}}
]},
{"data":{"name":"leg"},"transform":[{"filter":"datum.p=='d'"}],
"encoding":{"x":{"field":"c","type":"ordinal","scale":{"type":"point","domain":[0,1],"range":[-26,144],"padding":0},"axis":null},"y":{"field":"r","type":"ordinal","scale":{"type":"point","domain":[0,1,2],"range":[279,332],"padding":0},"axis":null},"color":{"field":"s","type":"nominal","scale":{"domain":["circular","radial","spiral","parallel","r160"],"range":["#0000ff","#00ff00","#ff8000","#000000","#1e9b1e"]},"legend":null}},
"layer":[
{"mark":{"type":"rule","strokeWidth":1.5,"xOffset":-15,"x2Offset":15},"encoding":{"x2":{"field":"c"},"strokeDash":{"condition":{"test":"datum.s=='r160'","value":[2,3]},"value":[1,0]}}},
{"mark":{"type":"point","filled":false,"strokeWidth":1.5,"opacity":1},"encoding":{"shape":{"field":"s","type":"nominal","scale":{"domain":["circular","radial","spiral","parallel","r160"],"range":["circle","M1,0A1,1,0,1,1,-1,0A1,1,0,1,1,1,0ZM-0.7,-0.7L0.7,0.7M-0.7,0.7L0.7,-0.7","diamond","square","M1,0A1,1,0,1,1,-1,0A1,1,0,1,1,1,0ZM0.25,0A0.25,0.25,0,1,1,-0.25,0A0.25,0.25,0,1,1,0.25,0Z"]},"legend":null},"size":{"condition":[{"test":"datum.s=='spiral'","value":150},{"test":"datum.s=='r160'","value":50}],"value":100}}},
{"mark":{"type":"text","align":"left","baseline":"middle","dx":24,"font":"Lato","fontSize":17},"encoding":{"text":{"field":"t"},"color":{"value":"#333333"}}}
]}
],
"resolve":{"scale":{"x":"independent","y":"independent"}}},

{"width":224,"height":226,
"title":{"text":"Glass patterns","offset":-29},
"layer":[
{"data":{"name":"bars"},"transform":[{"filter":"datum.p=='d'"}],"mark":{"type":"bar"},"encoding":{"x":{"field":"s","type":"nominal","scale":{"domain":["circular","radial","spiral","parallel"],"paddingInner":0.31,"paddingOuter":0.155},"axis":{"title":null,"labelAngle":-45,"tickSize":5}},"y":{"field":"v","type":"quantitative","scale":{"type":"log","domain":[0.1,1],"nice":false},"axis":{"values":[0.1,0.2,0.3,0.4,0.5,0.6,0.7,0.8,0.9,1],"labelExpr":"datum.value==1?'1':datum.value==0.1?'0.1':''","tickSize":{"condition":{"test":"datum.value==1||datum.value==0.1","value":6},"value":3},"title":null}},"y2":{"datum":0.1},"color":{"field":"s","type":"nominal","scale":{"domain":["circular","radial","spiral","parallel","r160"],"range":["#0000ff","#00ff00","#ff8000","#000000","#1e9b1e"]},"legend":null}}},
{"data":{"name":"bars"},"transform":[{"filter":"datum.p=='d'"}],"mark":{"type":"rule","strokeWidth":2.5},"encoding":{"x":{"field":"s","type":"nominal"},"y":{"field":"v","type":"quantitative"},"y2":{"field":"hi"},"color":{"field":"s","type":"nominal","legend":null}}},
{"data":{"name":"bars"},"transform":[{"filter":"datum.p=='d'"}],"mark":{"type":"tick","size":22,"thickness":2.5,"opacity":1},"encoding":{"x":{"field":"s","type":"nominal"},"y":{"field":"hi","type":"quantitative"},"color":{"field":"s","type":"nominal","legend":null}}},
{"data":{"name":"brk"},"transform":[{"filter":"datum.p=='d'"}],"mark":{"type":"rule","strokeWidth":1.5,"color":"#333333"},"encoding":{"x":{"field":"a","type":"nominal"},"x2":{"field":"b"},"y":{"field":"y","type":"quantitative"}}},
{"data":{"name":"brk"},"transform":[{"filter":"datum.p=='d'"}],"mark":{"type":"rule","strokeWidth":1.5,"color":"#333333"},"encoding":{"x":{"field":"a","type":"nominal"},"y":{"field":"y","type":"quantitative"},"y2":{"field":"y2"}}},
{"data":{"name":"brk"},"transform":[{"filter":"datum.p=='d'"}],"mark":{"type":"rule","strokeWidth":1.5,"color":"#333333"},"encoding":{"x":{"field":"b","type":"nominal"},"y":{"field":"y","type":"quantitative"},"y2":{"field":"y2"}}},
{"data":{"name":"brk"},"transform":[{"filter":"datum.p=='d'"}],"mark":{"type":"text","text":"*","dx":0,"dy":-5,"fontSize":17,"color":"#333333","baseline":"alphabetic"},"encoding":{"x":{"field":"m","type":"nominal"},"y":{"field":"y","type":"quantitative"}}}
]},

{"width":226,"height":226,
"layer":[
{"data":{"name":"bfit"},"transform":[{"filter":"datum.p=='d'"}],"mark":{"type":"line","color":"#0000ff","strokeWidth":1.5},"encoding":{"x":{"field":"x","type":"quantitative","scale":{"type":"log","domain":[10,100],"nice":false},"axis":{"values":[10,20,30,40,50,60,70,80,90,100],"labelExpr":"datum.value==10?'10':datum.value==100?'100':''","tickSize":{"condition":{"test":"datum.value==10||datum.value==100","value":6},"value":3},"labelFlush":false,"title":"Signal Area (%)","titlePadding":4}},"y":{"field":"y","type":"quantitative","scale":{"type":"log","domain":[1,10],"nice":false},"axis":{"values":[1,2,3,4,5,6,7,8,9,10],"labelExpr":"datum.value==1?'1':datum.value==10?'10':''","tickSize":{"condition":{"test":"datum.value==1||datum.value==10","value":6},"value":3},"title":"Beta (Slope of Psy Function)","titleFont":"Liberation Sans","titleFontSize":16.5,"titlePadding":19}}}},
{"data":{"name":"beta"},"transform":[{"filter":"datum.p=='d'"}],"mark":{"type":"rule","color":"#0000ff","strokeWidth":2},"encoding":{"x":{"field":"x","type":"quantitative"},"y":{"field":"lo","type":"quantitative"},"y2":{"field":"hi"}}},
{"data":{"name":"beta"},"transform":[{"filter":"datum.p=='d'"}],"mark":{"type":"tick","orient":"horizontal","size":14,"thickness":2,"color":"#0000ff","opacity":1},"encoding":{"x":{"field":"x","type":"quantitative"},"y":{"field":"lo","type":"quantitative"}}},
{"data":{"name":"beta"},"transform":[{"filter":"datum.p=='d'"}],"mark":{"type":"tick","orient":"horizontal","size":14,"thickness":2,"color":"#0000ff","opacity":1},"encoding":{"x":{"field":"x","type":"quantitative"},"y":{"field":"hi","type":"quantitative"}}},
{"data":{"name":"beta"},"transform":[{"filter":"datum.p=='d'"}],"mark":{"type":"point","filled":false,"color":"#0000ff","size":150,"strokeWidth":1.6,"opacity":1},"encoding":{"x":{"field":"x","type":"quantitative"},"y":{"field":"y","type":"quantitative"}}},
{"data":{"name":"notes"},"transform":[{"filter":"datum.p=='d'"}],"mark":{"type":"text","align":"left","baseline":"middle","dx":4,"dy":-13,"fontSize":17,"color":"#222222"},"encoding":{"x":{"datum":10,"type":"quantitative"},"y":{"datum":1,"type":"quantitative"},"text":{"field":"t"}}}
]}
],
"config":{
"view":{"stroke":null},
"font":"Liberation Sans",
"axis":{"domainColor":"#000000","domainWidth":2.5,"domainCap":"square","tickColor":"#000000","tickWidth":1.5,"labelFont":"Liberation Sans","labelFontSize":16,"labelColor":"#333333","titleFont":"Lato","titleFontWeight":"normal","titleColor":"#333333","titleFontSize":17,"grid":false,"labelPadding":2,"labelOverlap":false},
"title":{"font":"Lato","fontSize":29,"fontWeight":"normal","color":"#222222","anchor":"middle","baseline":"alphabetic","frame":"group"},
"text":{"font":"Liberation Sans"}
}
}
